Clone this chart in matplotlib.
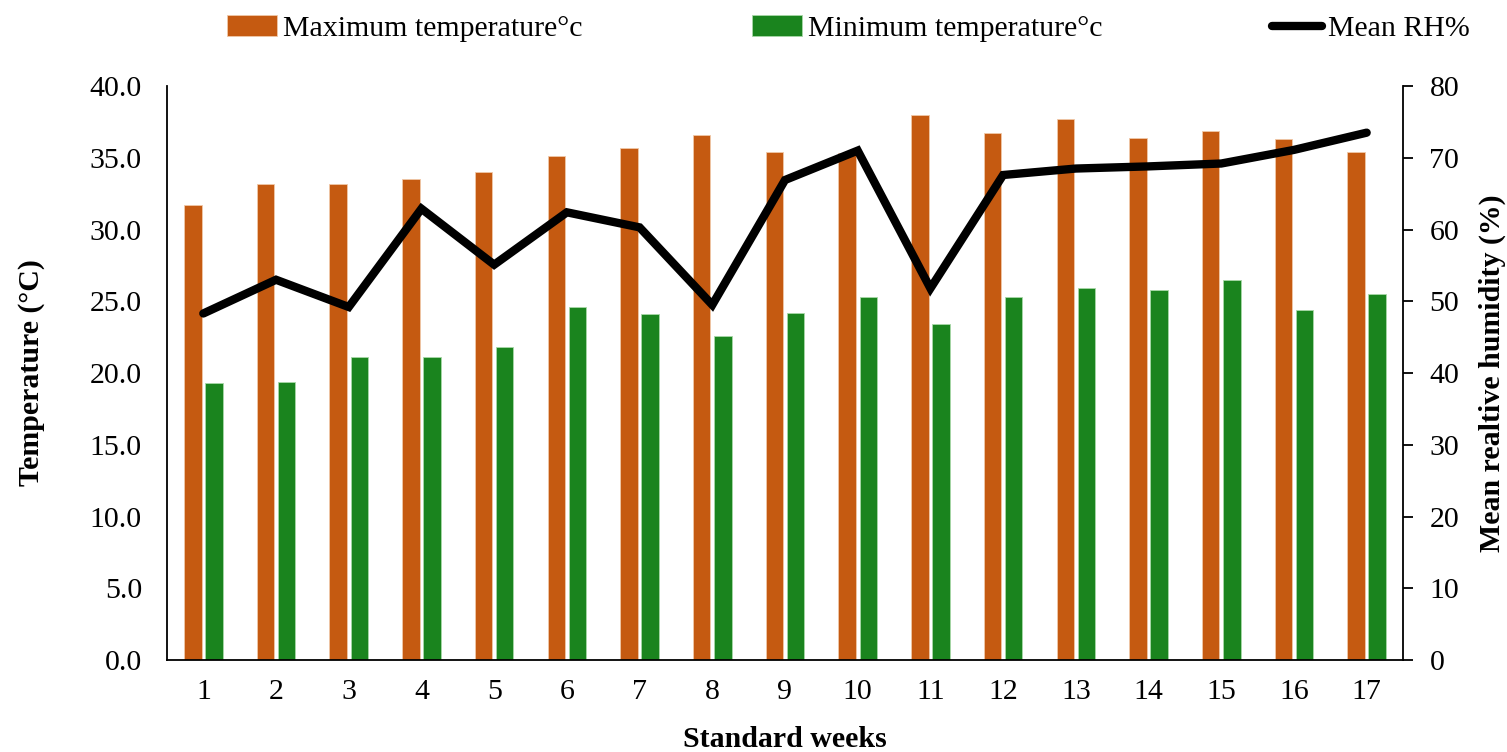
import numpy as np
import matplotlib
matplotlib.use("Agg")
import matplotlib.pyplot as plt

plt.rcParams["font.family"] = ["Liberation Serif", "DejaVu Serif"]

weeks = [str(i) for i in range(1, 18)]
max_temp = [31.7, 33.2, 33.2, 33.5, 34.0, 35.1, 35.7, 36.6, 35.4, 35.3,
            38.0, 36.7, 37.7, 36.4, 36.9, 36.3, 35.4]
min_temp = [19.3, 19.35, 21.1, 21.1, 21.8, 24.6, 24.1, 22.6, 24.2, 25.3,
            23.4, 25.3, 25.9, 25.8, 26.5, 24.4, 25.5]
mean_rh = [48.3, 53.0, 49.2, 62.9, 55.1, 62.4, 60.3, 49.5, 66.9, 71.0,
           51.8, 67.6, 68.5, 68.8, 69.2, 71.1, 73.5]

orange = "#c55a11"
green = "#1a841e"
fs = 21.5

fig = plt.figure(figsize=(15.07, 7.52), dpi=100)
ax = fig.add_axes([0.1108, 0.1223, 0.8202, 0.7633])
ax2 = ax.twinx()

x = np.arange(len(weeks))
w = 0.24
b1 = ax.bar(x - 0.145, max_temp, w, color=orange, edgecolor="#f0c8a8", linewidth=0.6,
            label="Maximum temperature°c")
b2 = ax.bar(x + 0.145, min_temp, w, color=green, edgecolor="#a8d8a8", linewidth=0.6,
            label="Minimum temperature°c")
l1, = ax2.plot(x, mean_rh, color="black", lw=6, solid_capstyle="round",
               solid_joinstyle="miter", label="Mean RH%")

ax.set_xlim(-0.5, len(weeks) - 0.5)
ax.set_ylim(0, 40)
ax.set_yticks(np.arange(0, 40.1, 5))
ax.set_yticklabels([f"{v:.1f}" for v in np.arange(0, 40.1, 5)])
ax.set_xticks(x)
ax.set_xticklabels(weeks)
ax2.set_ylim(0, 80)
ax2.set_yticks(range(0, 81, 10))

ax.spines["top"].set_visible(False)
ax2.spines["top"].set_visible(False)
ax.spines["right"].set_visible(False)
ax2.spines["left"].set_visible(False)
ax2.spines["bottom"].set_visible(False)
for a in (ax, ax2):
    for s in a.spines.values():
        s.set_linewidth(1.3)

ax.tick_params(axis="y", length=0, pad=18, labelsize=fs)
ax.tick_params(axis="x", length=0, pad=14, labelsize=fs)
ax2.tick_params(axis="y", length=7, width=1.3, pad=12, labelsize=fs)

ax.set_xlabel("Standard weeks", fontsize=fs, fontweight="bold", labelpad=15)
ax.set_ylabel("Temperature (°C)", fontsize=fs, fontweight="bold", labelpad=32)
ax2.set_ylabel("Mean realtive humidity (%)", fontsize=fs, fontweight="bold", labelpad=14)

fig.legend(handles=[b1, b2, l1], loc="lower left", ncol=3, mode="expand",
           bbox_to_anchor=(0.143, 0.928, 0.84, 0.05), frameon=False,
           fontsize=fs, handlelength=1.65, handletextpad=0.2, borderaxespad=0)

fig.savefig("out.png", dpi=100)
